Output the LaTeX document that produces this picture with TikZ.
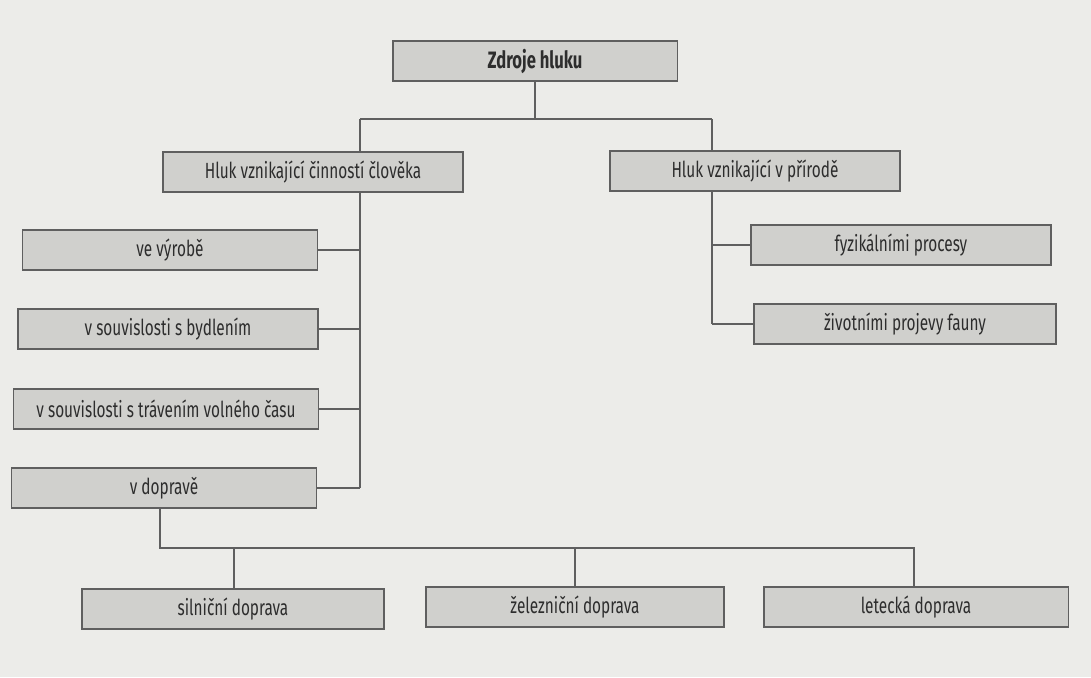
\documentclass[tikz,border=0pt]{standalone}
\usepackage{fontspec}
\setmainfont[FakeStretch=0.7]{Fira Sans}
\definecolor{paper}{RGB}{236,236,233}
\definecolor{boxfill}{RGB}{208,208,205}
\definecolor{boxline}{RGB}{95,95,95}
\definecolor{ink}{RGB}{45,45,45}

\begin{document}
\begin{tikzpicture}[
    x=0.02cm, y=-0.02cm,
    item/.style={rectangle, draw=boxline, fill=boxfill, line width=1.1pt, minimum width=6cm, minimum height=0.8cm, inner sep=2pt, font=\fontsize{12.5}{14}\selectfont, text=ink},
    edge/.style={-, line width=1pt, draw=boxline}
]
\fill[paper] (0,0) rectangle (1091,677);
\useasboundingbox (0,0) rectangle (1091,677);

% Nodes
\node[item, minimum width=5.7cm, font=\fontsize{13.5}{15}\selectfont\bfseries] (zdroje) at (535,61) {Zdroje hluku};
\node[item] (clovek) at (313,172) {Hluk vznikající činností člověka};
\node[item, minimum width=5.8cm] (priroda) at (755,171) {Hluk vznikající v přírodě};

\node[item, minimum width=5.9cm] (vyroba) at (170,250) {ve výrobě};
\node[item] (bydleni) at (168,329) {v souvislosti s bydlením};
\node[item, minimum width=6.1cm] (volno) at (166,409) {v souvislosti s trávením volného času};
\node[item, minimum width=6.1cm] (doprava) at (164,488) {v dopravě};

\node[item] (fyzika) at (901,245) {fyzikálními procesy};
\node[item, minimum width=6.05cm] (fauna) at (905,324) {životními projevy fauny};

\node[item, minimum width=6.05cm] (silnice) at (233,609) {silniční doprava};
\node[item, minimum width=5.95cm] (zeleznice) at (575,607) {železniční doprava};
\node[item, minimum width=6.1cm] (letectvi) at (916,607) {letecká doprava};

% Junctions
\coordinate (split) at (535,119);
\coordinate (ltrunk) at (360,119);
\coordinate (rtrunk) at (712,119);
\coordinate (lbottom) at (360,488);
\coordinate (rbottom) at (712,324);
\coordinate (dsplit) at (160,548);
\coordinate (dend) at (914,548);

% Edges
\draw[edge] (zdroje.south) -- (split);
\draw[edge] (ltrunk) -- (rtrunk);
\draw[edge] (ltrunk) -- (ltrunk |- clovek.north);
\draw[edge] (rtrunk) -- (rtrunk |- priroda.north);

\draw[edge] (ltrunk |- clovek.south) -- (lbottom);
\draw[edge] (vyroba.east) -- (vyroba.east -| lbottom);
\draw[edge] (bydleni.east) -- (bydleni.east -| lbottom);
\draw[edge] (volno.east) -- (volno.east -| lbottom);
\draw[edge] (doprava.east) -- (lbottom);

\draw[edge] (rtrunk |- priroda.south) -- (rbottom);
\draw[edge] (fyzika.west -| rbottom) -- (fyzika.west);
\draw[edge] (rbottom) -- (fauna.west);

\draw[edge] (doprava.south -| dsplit) -- (dsplit) -- (dend) -- (dend |- letectvi.north);
\draw[edge] (dsplit -| 234,0) -- (silnice.north -| 234,0);
\draw[edge] (dsplit -| zeleznice.north) -- (zeleznice.north);

\end{tikzpicture}
\end{document}
